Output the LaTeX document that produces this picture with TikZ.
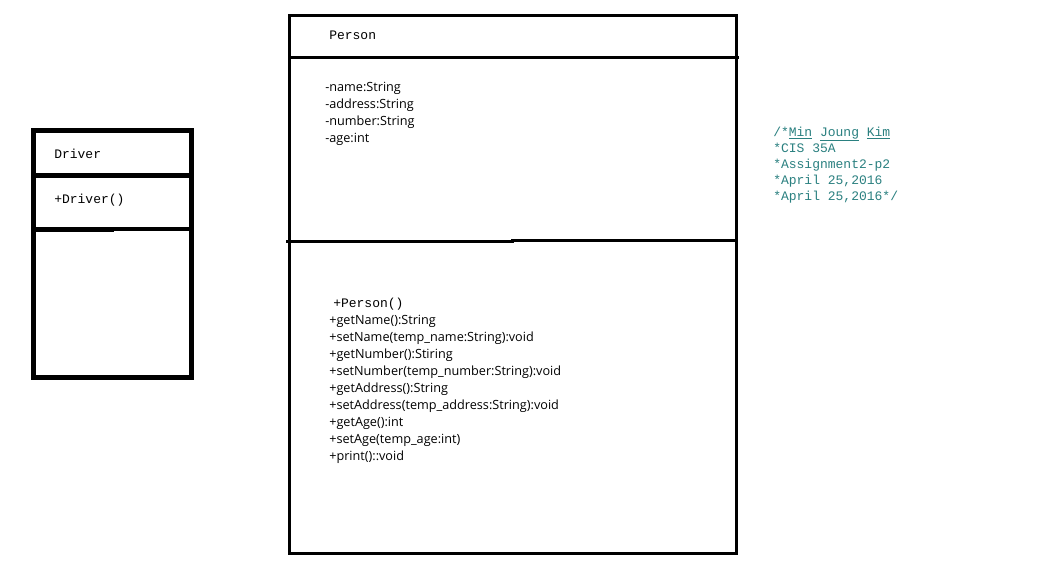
\documentclass[tikz,border=0pt]{standalone}
\usepackage{fontspec}
\setmainfont{Open Sans}
\setmonofont{Liberation Mono}
\definecolor{cmt}{RGB}{42,128,128}
\tikzset{
  x=0.75pt, y=-0.75pt,
  pline/.style={line width=2.25pt, line cap=rect},
  dline/.style={line width=3.4pt, line cap=rect},
  mono/.style={anchor=base west, inner sep=0pt, font=\ttfamily\fontsize{9.75}{12.75}\selectfont},
  sans/.style={anchor=base west, inner sep=0pt, font=\fontsize{9.5}{12.75}\selectfont},
  cmtext/.style={anchor=base west, inner sep=0pt, text=cmt, font=\ttfamily\fontsize{9.75}{12}\selectfont},
}
\begin{document}
\begin{tikzpicture}
\fill[white] (0,0) rectangle (1061,564);
\useasboundingbox (0,0) rectangle (1061,564);
% Driver class
\draw[dline] (33.5,130.5) rectangle (191.5,377.5);
\draw[dline] (33.5,175.5) -- (191.5,175.5);
\draw[dline] (33.5,229.5) -- (112,229.5);
\draw[dline] (112,229) -- (191.5,229);
\node[mono] (dname) at (54,158.5) {Driver};
\node[mono] (dctor) at (54,203) {+Driver()};
% Person class
\draw[pline] (289.5,15) rectangle (736,553.5);
\draw[pline] (289.5,57) -- (737,57);
\draw[pline] (287,241) -- (512,241);
\draw[pline] (512,240) -- (736,240);
\node[mono] (pname) at (329,39) {Person};
\foreach \t [count=\i from 0] in {-name:String,-address:String,-number:String,-age:int}
  \node[sans] (attr\i) at (325,91+17*\i) {\t};
\node[mono] (pctor) at (333,307.5) {+Person()};
\foreach \t [count=\i from 0] in {+getName():String,+setName(temp\_name:String):void,+getNumber():Stiring,+setNumber(temp\_number:String):void,+getAddress():String,+setAddress(temp\_address:String):void,+getAge():int,+setAge(temp\_age:int),+print()::void}
  \node[sans] (meth\i) at (329,324.5+17*\i) {\t};
% Comment
\node[cmtext] (cmt0) at (773,136) {/*\underline{Min} \underline{Joung} \underline{Kim}};
\foreach \t [count=\i from 1] in {*CIS 35A,*Assignment2-p2,{*April 25,2016},{*April 25,2016*/}}
  \node[cmtext] (cmt\i) at (773,136+16*\i) {\t};
\end{tikzpicture}
\end{document}
